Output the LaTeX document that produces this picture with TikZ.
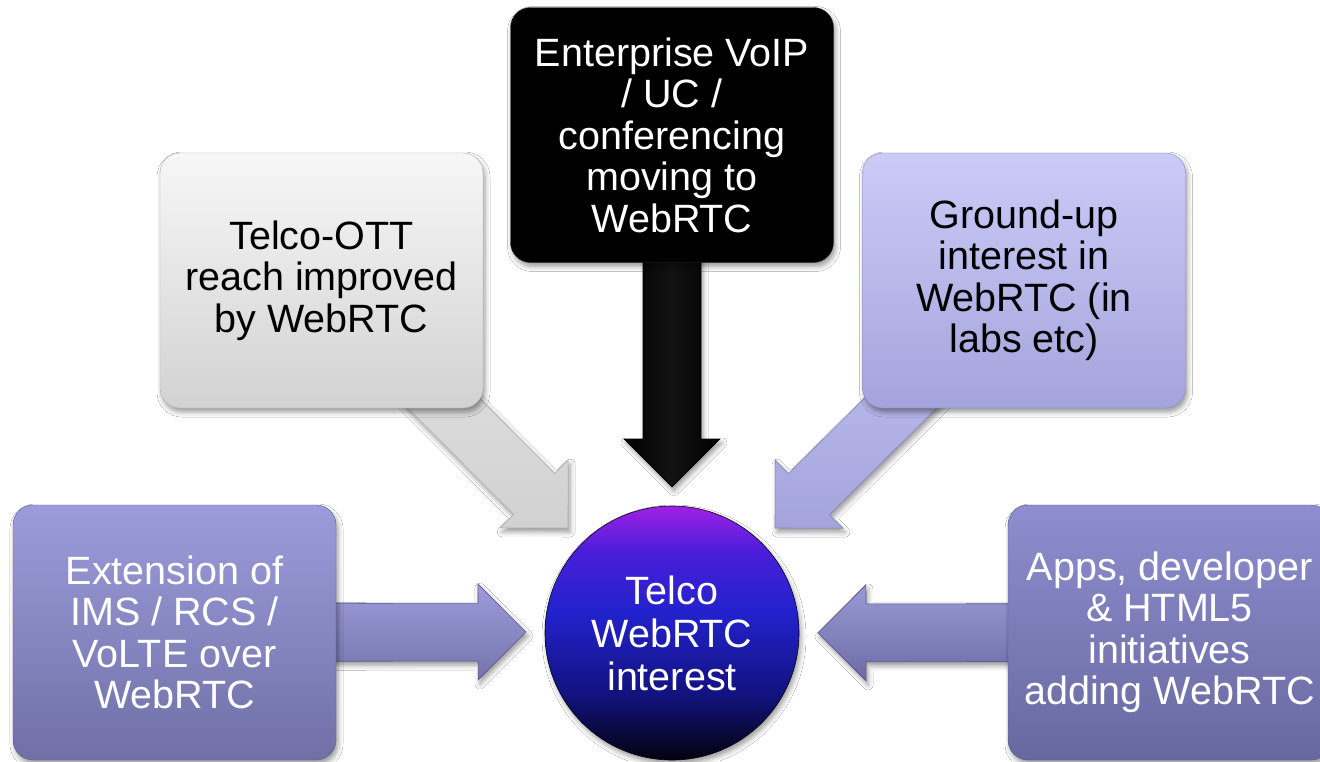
\documentclass[tikz,border=0pt]{standalone}
\usepackage{fontspec}
\setmainfont{Liberation Sans}
\usetikzlibrary{calc,backgrounds,shadows.blur}

% box colours
\definecolor{ottTop}{HTML}{F7F7F7}
\definecolor{ottBot}{HTML}{D2D2D2}
\definecolor{grdTop}{HTML}{CBCBF8}
\definecolor{grdBot}{HTML}{A4A4DC}
\definecolor{imsTop}{HTML}{9C9CDC}
\definecolor{imsBot}{HTML}{7070A6}
\definecolor{appTop}{HTML}{8E8ED0}
\definecolor{appBot}{HTML}{6868A0}
% hub colours
\definecolor{hubP}{HTML}{A020E6}
\definecolor{hubV}{HTML}{4A1EDA}
\definecolor{hubB}{HTML}{2222CC}
\definecolor{hubN}{HTML}{121280}
\definecolor{hubK}{HTML}{02020E}

\pgfdeclareverticalshading{hubfill}{100bp}{%
  color(0bp)=(hubK); color(25bp)=(hubK); color(38bp)=(hubN);
  color(54bp)=(hubB); color(66bp)=(hubV); color(75bp)=(hubP);
  color(100bp)=(hubP)}

% block arrow from #2 to #3 (shaft half width 29, head half width 48, head length 48)
\newcommand\bigarrow[3]{%
  \path[#1]
    ($(#2)!29pt!90:(#3)$)
    -- ($($(#3)!48pt!(#2)$)!29pt!90:(#3)$)
    -- ($($(#3)!48pt!(#2)$)!48pt!90:(#3)$)
    -- (#3)
    -- ($($(#3)!48pt!(#2)$)!48pt!-90:(#3)$)
    -- ($($(#3)!48pt!(#2)$)!29pt!-90:(#3)$)
    -- ($(#2)!29pt!-90:(#3)$)
    -- cycle;}

\begin{document}
\begin{tikzpicture}[x=1pt,y=-1pt,
  softshadow/.style={blur shadow={shadow xshift=2pt, shadow yshift=-4pt,
      shadow blur radius=5pt, shadow opacity=40}},
  box/.style={rounded corners=20pt, minimum width=323pt, minimum height=255pt,
      inner sep=0pt, align=center, softshadow,
      font=\fontsize{39.5}{41.5}\selectfont},
  arrowbody/.style={softshadow, draw=#1, line width=0.6pt},
]
\useasboundingbox (0,0) rectangle (1320,761);

% boxes
\node[box, top color=ottTop, bottom color=ottBot, draw=ottBot!85!black, text=black]
  (ott) at (321.5,280.5) {Telco-OTT\\reach improved\\by WebRTC};
\node[box, fill=black, draw=black!80, text=white]
  (ent) at (672,135) {Enterprise VoIP\\/ UC /\\conferencing\\moving to\\WebRTC};
\node[box, top color=grdTop, bottom color=grdBot, draw=grdBot!85!black, text=black]
  (grd) at (1024,280.5) {Ground-up\\interest in\\WebRTC (in\\labs etc)};
\node[box, top color=imsTop, bottom color=imsBot, draw=imsBot!85!black, text=white]
  (ims) at (174.5,632.5) {Extension of\\IMS / RCS /\\VoLTE over\\WebRTC};
\node[box, top color=appTop, bottom color=appBot, draw=appBot!85!black, text=white]
  (app) at (1169.5,632.5) {Apps, developer\\\& HTML5\\initiatives\\adding WebRTC};

% central hub
\node[circle, minimum size=254pt, inner sep=0pt, shade, shading=hubfill,
  draw=hubK, line width=0.6pt, softshadow, text=white, align=center,
  font=\fontsize{39.5}{43}\selectfont]
  (hub) at (672,633) {Telco\\WebRTC\\interest};

% arrow tips near the hub
\coordinate (tipT) at (672,487);
\coordinate (tipTL) at (568,528);
\coordinate (tipTR) at (775,528);
\coordinate (tipL) at (526,632);
\coordinate (tipR) at (818,633);

\begin{scope}[on background layer]
  \fill[white] (0,0) rectangle (1320,761);
  \bigarrow{arrowbody=black, left color=black, right color=black, middle color=black!93}{ent}{tipT}
  \bigarrow{arrowbody=black!32, top color=black!10, bottom color=black!18}{ott}{tipTL}
  \bigarrow{arrowbody=grdBot!80!black, top color=grdTop!90!grdBot, bottom color=grdBot}{grd}{tipTR}
  \bigarrow{arrowbody=imsBot!80!black, top color=imsTop, bottom color=imsBot!90!imsTop}{ims}{tipL}
  \bigarrow{arrowbody=appBot!80!black, top color=appTop!90!white, bottom color=appBot!90!appTop}{app}{tipR}
\end{scope}
\end{tikzpicture}
\end{document}
